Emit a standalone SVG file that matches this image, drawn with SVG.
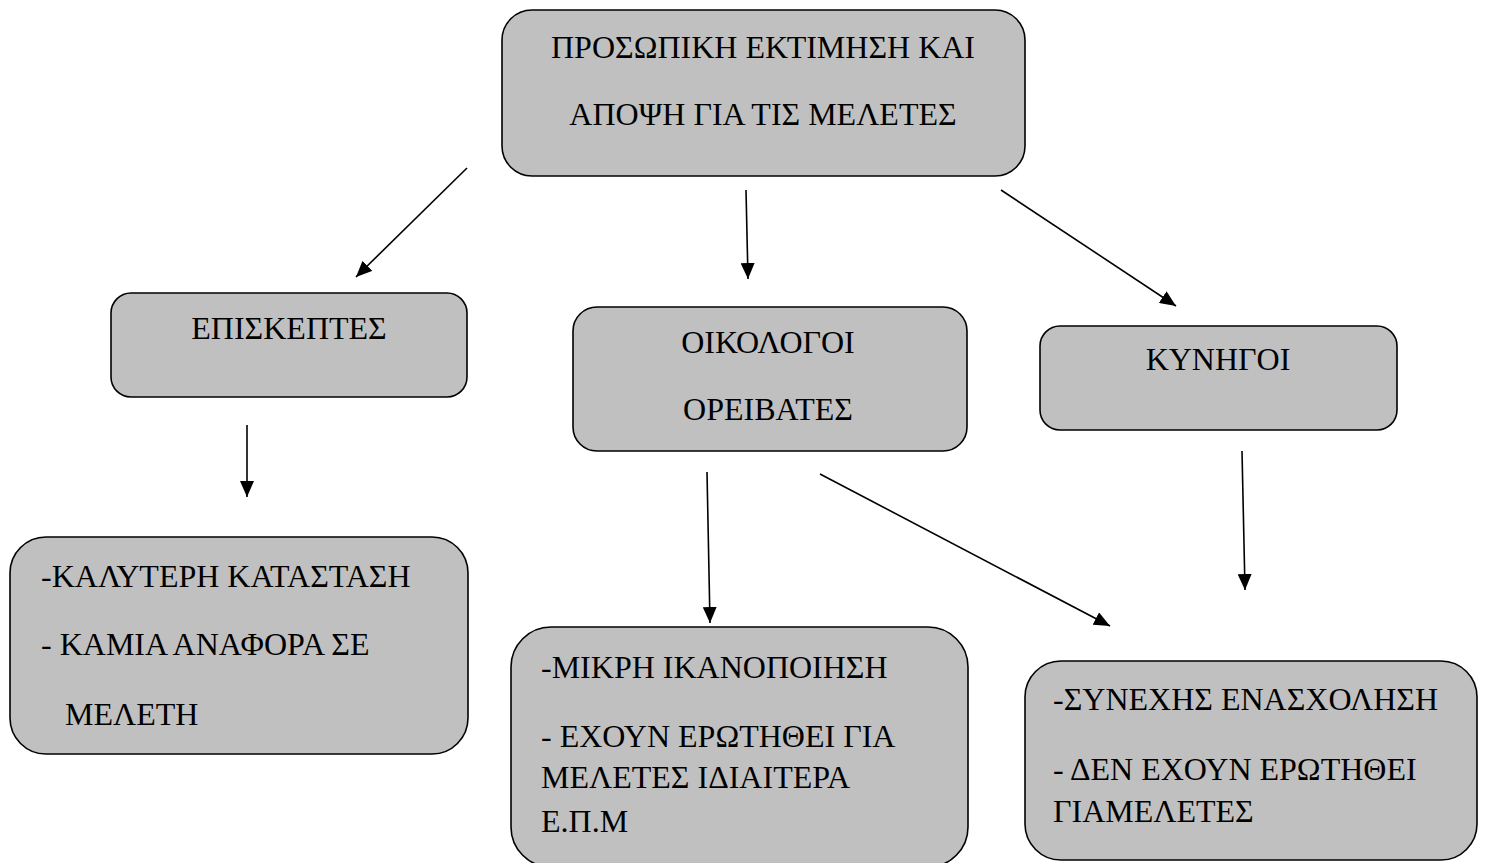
<svg xmlns="http://www.w3.org/2000/svg" width="1486" height="863" viewBox="0 0 1486 863">
<style>
.box{fill:#c0c0c0;stroke:#000;stroke-width:1.6}
.t{font-family:"Liberation Serif","Times New Roman",serif;font-size:32px;fill:#000}
.c{text-anchor:middle}
.conn line{stroke:#000;stroke-width:1.6;marker-end:url(#ah)}
</style>
<defs>
<marker id="ah" markerUnits="userSpaceOnUse" markerWidth="16" markerHeight="14" viewBox="0 0 16 14" refX="16" refY="7" orient="auto">
<path d="M0,0 L16,7 L0,14 Z" fill="#000"/>
</marker>
</defs>
<rect width="1486" height="863" fill="#fff"/>
<g id="n_top">
<rect class="box" x="502" y="10" width="523" height="166" rx="30"/>
<text class="t c" x="763" y="58">ΠΡΟΣΩΠΙΚΗ ΕΚΤΙΜΗΣΗ ΚΑΙ</text>
<text class="t c" x="763" y="125">ΑΠΟΨΗ ΓΙΑ ΤΙΣ ΜΕΛΕΤΕΣ</text>
</g>
<g id="n_visitors">
<rect class="box" x="111" y="293" width="356" height="104" rx="20"/>
<text class="t c" x="289" y="339">ΕΠΙΣΚΕΠΤΕΣ</text>
</g>
<g id="n_eco">
<rect class="box" x="573" y="307" width="394" height="144" rx="24"/>
<text class="t c" x="768" y="353">ΟΙΚΟΛΟΓΟΙ</text>
<text class="t c" x="768" y="420">ΟΡΕΙΒΑΤΕΣ</text>
</g>
<g id="n_hunters">
<rect class="box" x="1040" y="326" width="357" height="104" rx="20"/>
<text class="t c" x="1218" y="370">ΚΥΝΗΓΟΙ</text>
</g>
<g id="n_vis_detail">
<rect class="box" x="10" y="537" width="458" height="217" rx="36"/>
<text class="t" x="41" y="587" font-size="33">-ΚΑΛΥΤΕΡΗ ΚΑΤΑΣΤΑΣΗ</text>
<text class="t" x="41" y="655" font-size="33">- ΚΑΜΙΑ ΑΝΑΦΟΡΑ ΣΕ</text>
<text class="t" x="65" y="725" font-size="33">ΜΕΛΕΤΗ</text>
</g>
<g id="n_eco_detail">
<rect class="box" x="511" y="627" width="457" height="240" rx="40"/>
<text class="t" x="541" y="678">-ΜΙΚΡΗ ΙΚΑΝΟΠΟΙΗΣΗ</text>
<text class="t" x="541" y="747">- ΕΧΟΥΝ ΕΡΩΤΗΘΕΙ ΓΙΑ</text>
<text class="t" x="541" y="788">ΜΕΛΕΤΕΣ ΙΔΙΑΙΤΕΡΑ</text>
<text class="t" x="541" y="832">Ε.Π.Μ</text>
</g>
<g id="n_hunt_detail">
<rect class="box" x="1025" y="661" width="452" height="199" rx="36"/>
<text class="t" x="1053" y="710">-ΣΥΝΕΧΗΣ ΕΝΑΣΧΟΛΗΣΗ</text>
<text class="t" x="1053" y="780">- ΔΕΝ ΕΧΟΥΝ ΕΡΩΤΗΘΕΙ</text>
<text class="t" x="1053" y="822">ΓΙΑΜΕΛΕΤΕΣ</text>
</g>
<g id="connectors" class="conn">
<line x1="467" y1="168" x2="356" y2="277"/>
<line x1="746" y1="190" x2="748" y2="279"/>
<line x1="1001" y1="190" x2="1176" y2="306"/>
<line x1="247" y1="425" x2="247" y2="497"/>
<line x1="707" y1="472" x2="710" y2="623"/>
<line x1="820" y1="474" x2="1110" y2="626"/>
<line x1="1242" y1="451" x2="1245" y2="590"/>
</g>
</svg>
